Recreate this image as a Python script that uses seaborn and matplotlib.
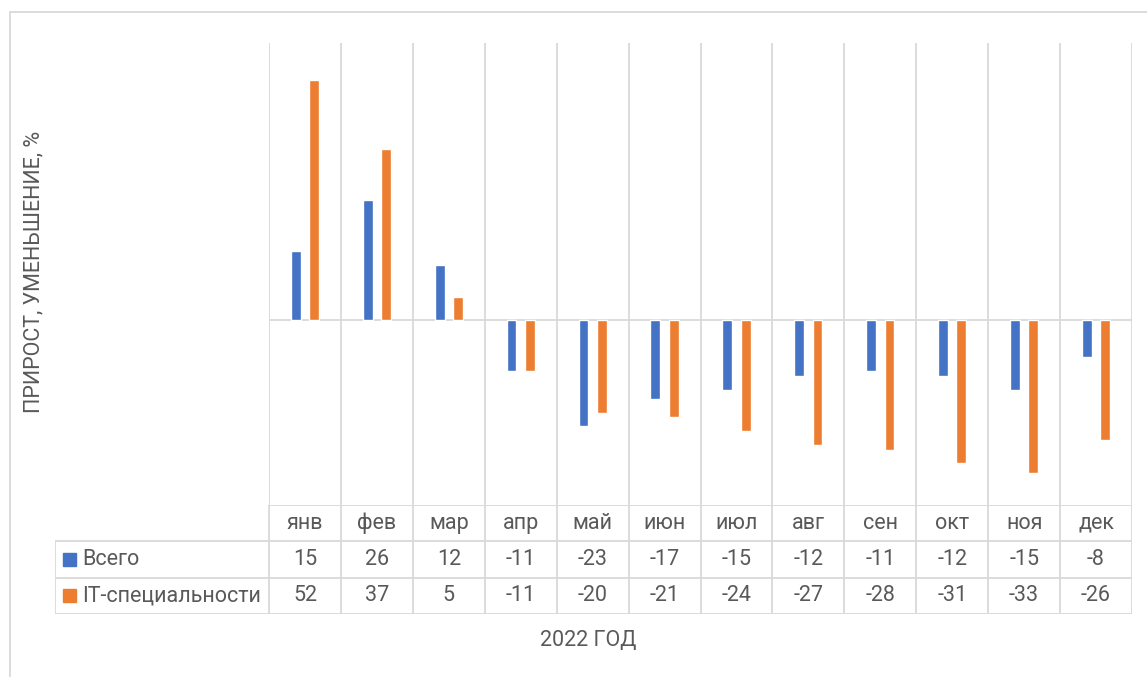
import numpy as np
import pandas as pd
import seaborn as sns
import matplotlib.pyplot as plt
from matplotlib.lines import Line2D
from matplotlib.patches import Rectangle

# data (percent change, 2022)
months = ['янв', 'фев', 'мар', 'апр', 'май', 'июн', 'июл', 'авг', 'сен', 'окт', 'ноя', 'дек']
total = [15, 26, 12, -11, -23, -17, -15, -12, -11, -12, -15, -8]
it_jobs = [52, 37, 5, -11, -20, -21, -24, -27, -28, -31, -33, -26]
series_names = ['Всего', 'IT-специальности']
colors = ['#4472C4', '#ED7D31']

W, H = 1147, 677
GRID = '#D9D9D9'
TEXT = '#595959'
FS = 15.5


def fx(px):
    return px / W


def fy(py):
    return 1 - py / H


sns.set_theme(style='white')
plt.rcParams['font.family'] = ['Roboto', 'DejaVu Sans']

df = pd.DataFrame({
    'month': months * 2,
    'value': total + it_jobs,
    'series': [series_names[0]] * len(months) + [series_names[1]] * len(months),
})

fig = plt.figure(figsize=(W / 100, H / 100), dpi=100)

# plot area
x0, x1, top, bottom = 269, 1132, 43, 505
ax = fig.add_axes([fx(x0), fy(bottom), (x1 - x0) / W, (bottom - top) / H])
sns.barplot(data=df, x='month', y='value', hue='series', order=months,
            hue_order=series_names, palette=colors, width=0.51, gap=0.46,
            saturation=1, legend=False, ax=ax, zorder=3)
n = len(months)
ax.set_xlim(-0.5, n - 0.5)
ax.set_ylim(-40, 60)
ax.axhline(0, color=GRID, lw=1.3, zorder=2)
for b in np.arange(n + 1) - 0.5:
    ax.axvline(b, color=GRID, lw=1.3, zorder=1)
for s in ax.spines.values():
    s.set_visible(False)
ax.set_xticks([])
ax.set_yticks([])
ax.set_xlabel('')
ax.set_ylabel('')

# data table under the plot
col_w = (x1 - x0) / n
tleft, tbottom = 55, 614
tax = fig.add_axes([fx(tleft), fy(tbottom), (x1 - tleft) / W, (tbottom - bottom) / H])
L = -0.5 - (x0 - tleft) / col_w
tax.set_xlim(L, n - 0.5)
tax.set_ylim(3, 0)
tax.axis('off')

tax.plot([-0.5, n - 0.5], [0, 0], color=GRID, lw=1.3)
for r in (1, 2, 3):
    tax.plot([L, n - 0.5], [r, r], color=GRID, lw=1.3)
for b in np.arange(n + 1) - 0.5:
    tax.plot([b, b], [0, 3], color=GRID, lw=1.3)
tax.plot([L, L], [1, 3], color=GRID, lw=1.3)

for i, m in enumerate(months):
    tax.text(i, 0.5, m, ha='center', va='center', fontsize=FS, color=TEXT)
    tax.text(i, 1.5, str(total[i]), ha='center', va='center', fontsize=FS, color=TEXT)
    tax.text(i, 2.5, str(it_jobs[i]), ha='center', va='center', fontsize=FS, color=TEXT)

sq = 13 / col_w
sq_h = 13 / ((tbottom - bottom) / 3)
for r, (name, c) in enumerate(zip(series_names, colors), start=1):
    mx = L + 8 / col_w
    tax.add_patch(Rectangle((mx, r + 0.5 - sq_h / 2), sq, sq_h, color=c, clip_on=False))
    tax.text(L + 27 / col_w, r + 0.5, name, ha='left', va='center', fontsize=FS, color=TEXT)

# axis titles
fig.text(fx(34), fy(272), 'ПРИРОСТ, УМЕНЬШЕНИЕ, %', rotation=90, ha='center',
         va='center', fontsize=FS, color=TEXT)
fig.text(fx(588), fy(641), '2022 ГОД', ha='center', va='center', fontsize=FS, color=TEXT)

# chart area border (cropped on right/bottom)
fig.add_artist(Line2D([fx(10), 1], [fy(12), fy(12)], color=GRID, lw=1.3))
fig.add_artist(Line2D([fx(10), fx(10)], [fy(12), 0], color=GRID, lw=1.3))

fig.savefig('out.png', dpi=100)
